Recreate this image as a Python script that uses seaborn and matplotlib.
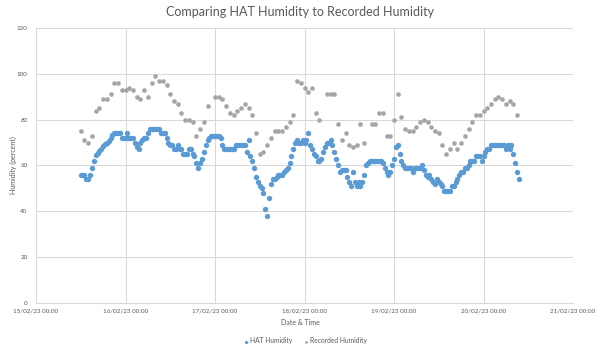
import pandas as pd
import numpy as np
import matplotlib.pyplot as plt
import matplotlib.dates as mdates
import seaborn as sns

# HAT sensor readings, every 30 minutes from 15/02/23 12:00
hat_values = [
    56, 56, 56, 54, 54, 56, 59, 62, 64.5, 65.5, 66.5, 67,
    68.5, 69.5, 70, 70.7, 72, 73.5, 74, 74, 74, 74, 72, 72,
    72, 74, 72, 72, 72, 70, 68, 67, 70, 71, 72, 72,
    74, 76, 76, 76, 76, 76, 76, 74, 74, 74, 72, 70,
    69, 69, 67, 67, 69, 67, 67, 65, 65, 65, 67, 67,
    65, 64, 61, 59, 61, 63, 66, 69, 71, 72, 73, 73,
    73, 73, 73, 72, 69, 67, 67, 67, 67, 67, 67, 69,
    69, 69, 69, 69, 69, 66, 71, 64, 62, 59, 55, 53,
    51, 50, 48, 41, 38, 46, 52, 54, 54, 55, 56, 56,
    56, 57, 58, 59, 61, 64, 67, 70, 71, 70, 70, 71,
    70, 71, 74, 69, 67, 65, 64, 62, 62, 63, 66, 68,
    70, 70, 71, 69, 66, 63, 60, 57, 58, 58, 58, 55,
    53, 51, 57, 53, 51, 53, 51, 53, 56, 60, 61, 62,
    62, 62, 62, 62, 62, 62, 61, 59, 57, 56, 57, 60,
    63, 68, 69, 65, 62, 60, 59, 59, 59, 59, 57, 59,
    59, 59, 59, 60, 58, 56, 55, 56, 54, 53, 52, 54,
    53, 52, 51, 49, 49, 49, 49, 51, 51, 53, 54, 56,
    57, 57, 59, 59, 60, 62, 62, 62, 64, 64, 64, 62,
    64, 66, 67, 67, 69, 69, 69, 69, 69, 69, 69, 69,
    67, 69, 67, 69, 65, 61, 57, 54,
]

# recorded readings: hours after 15/02/23 00:00
rec_hours = [
    12, 13, 14, 15, 16, 17, 18, 19, 20, 21,
    22, 23, 24, 25, 26, 27, 28, 29, 30, 31,
    32, 33, 34, 35, 36, 37, 38, 39, 40, 41,
    42, 43, 44, 45, 46,
    48, 49, 50, 51, 52, 53, 54, 55, 56, 57,
    58, 59, 60, 61, 62, 63, 64, 65, 66, 67,
    68, 69, 70, 71, 72, 73, 74, 75, 76,
    78, 79, 80, 81, 82, 83, 84, 85, 86, 87, 88,
    90, 91, 92, 93, 94, 95, 96, 97, 98, 99,
    100, 101, 102, 103, 104, 105, 106, 107, 108, 109,
    110, 111, 112, 113, 114, 115, 116, 117, 118, 119,
    120, 121, 122, 123, 124, 125, 126, 127, 128, 129,
]
rec_values = [
    75, 71, 70, 73, 84, 85, 89, 89, 91, 96,
    96, 93, 93, 94, 93, 90, 89, 93, 90, 96,
    99, 97, 97, 95, 91, 88, 87, 83, 80, 80,
    79, 73, 76, 79, 86,
    90, 90, 89, 86, 83, 82, 84, 85, 87, 85,
    82, 74, 65, 66, 69, 72, 75, 75, 75, 77,
    79, 82, 97, 96, 94, 92, 94, 83, 80,
    91, 91, 91, 78, 71, 74, 69, 68, 69, 78, 70,
    78, 78, 83, 83, 73, 73, 80, 91, 81, 76,
    75, 75, 77, 79, 80, 79, 77, 75, 74, 69,
    65, 67, 70, 67, 70, 73, 76, 79, 82, 82,
    84, 85, 87, 89, 90, 89, 87, 88, 87, 82,
]

start = pd.Timestamp('2023-02-15')
hat = pd.DataFrame({
    'time': pd.date_range('2023-02-15 12:00', periods=len(hat_values), freq='30min'),
    'humidity': hat_values,
})
rec = pd.DataFrame({
    'time': start + pd.to_timedelta(rec_hours, unit='h'),
    'humidity': rec_values,
})

sns.set_style('white')
plt.rcParams['font.family'] = ['Lato', 'DejaVu Sans']
txt = '#595959'
grid = '#d9d9d9'

fig, ax = plt.subplots(figsize=(6, 3.51), dpi=100)
fig.subplots_adjust(left=0.06, right=0.955, top=0.92, bottom=0.137)

sns.scatterplot(data=hat, x='time', y='humidity', ax=ax, color='#5b9bd5',
                s=15, linewidth=0, label='HAT Humidity', zorder=3)
sns.scatterplot(data=rec, x='time', y='humidity', ax=ax, color='#a5a5a5',
                s=11, linewidth=0, label='Recorded Humidity', zorder=3)

ax.set_xlim(start, pd.Timestamp('2023-02-21'))
ax.set_ylim(0, 120)
ax.set_yticks(range(0, 121, 20))
ax.xaxis.set_major_locator(mdates.DayLocator())
ax.xaxis.set_major_formatter(mdates.DateFormatter('%d/%m/%y %H:%M'))
ax.grid(True, color=grid, lw=0.75)
ax.set_axisbelow(True)
for side in ['top', 'right', 'left']:
    ax.spines[side].set_visible(False)
ax.spines['bottom'].set_color(grid)
ax.tick_params(length=0, labelsize=4.5, labelcolor=txt)
ax.tick_params(axis='x', pad=4)
ax.tick_params(axis='y', pad=6)
ax.set_xlabel('')
ax.set_ylabel('')

fig.text(0.5, 0.966, 'Comparing HAT Humidity to Recorded Humidity',
         ha='center', va='center', fontsize=9, color=txt)
fig.text(0.5, 0.08, 'Date & Time', ha='center', va='center', fontsize=5, color=txt)
fig.text(0.022, 0.53, 'Humidity (percent)', ha='center', va='center',
         rotation=90, fontsize=5, color=txt)

ax.legend(loc='center', bbox_to_anchor=(0.5, -0.138), ncol=2, frameon=False,
          fontsize=4.8, labelcolor=txt, markerscale=0.6, handletextpad=0.1,
          columnspacing=1.5, handlelength=1)

fig.savefig('out.png', dpi=100)
